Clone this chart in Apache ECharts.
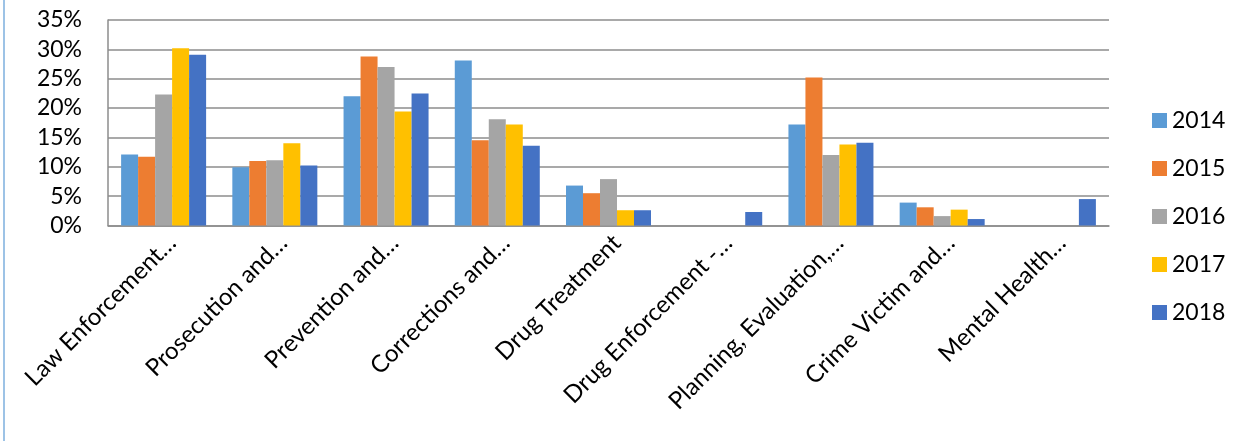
<!DOCTYPE html>
<html>
<head>
<meta charset="utf-8">
<script src="https://cdn.jsdelivr.net/npm/echarts@6/dist/echarts.min.js"></script>
<style>
    html, body {margin: 0; padding: 0; background: #fff;}
    #chart {width: 1252px; height: 441px;}
    .edge {position: absolute; left: 3px; top: 0; width: 2px; height: 441px; background: #9dc3e6; z-index: 2;}
</style>
</head>
<body>
<div class="edge"></div>
<div id="chart"></div>
<script>
// categories (labels are cut off in the original)
const categories = ['Law Enforcement…', 'Prosecution and…', 'Prevention and…', 'Corrections and…',
    'Drug Treatment', 'Drug Enforcement -…', 'Planning, Evaluation,…', 'Crime Victim and…', 'Mental Health…']
const years = ['2014', '2015', '2016', '2017', '2018']

// share per year, %
const v2014 = [12.1, 9.9, 22.0, 28.1, 6.8, 0, 17.2, 3.9, 0]
const v2015 = [11.7, 11.0, 28.8, 14.5, 5.5, 0, 25.2, 3.1, 0]
const v2016 = [22.3, 11.1, 27.0, 18.1, 7.9, 0, 12.0, 1.6, 0]
const v2017 = [30.2, 14.0, 19.4, 17.2, 2.6, 0, 13.8, 2.7, 0]
const v2018 = [29.1, 10.2, 22.5, 13.6, 2.6, 2.3, 14.1, 1.1, 4.5]

const colors = ['#5b9bd5', '#ed7d31', '#a5a5a5', '#ffc000', '#4472c4']
const dataArr = [v2014, v2015, v2016, v2017, v2018]
const font = 'Lato, "Open Sans", sans-serif'

const chartObj = echarts.init(document.getElementById('chart'))

const series = years.map((name, i) => {
    return {
        name: name,
        type: 'bar',
        barWidth: 17,
        barGap: '0%',
        itemStyle: {color: colors[i]},
        data: dataArr[i],
        animation: false
    }
})

const option = {
    backgroundColor: '#fff',
    color: colors,
    grid: {
        left: 108,
        right: 143,
        top: 20,
        height: 205.5
    },
    legend: {
        orient: 'vertical',
        left: 1147,
        top: 104,
        itemWidth: 15,
        itemHeight: 15,
        itemGap: 25,
        icon: 'rect',
        textStyle: {fontFamily: font, fontSize: 23, color: '#000'},
        data: years
    },
    xAxis: {
        type: 'category',
        data: categories,
        axisTick: {show: false},
        axisLine: {show: true, lineStyle: {color: '#8c8c8c', width: 1.5}},
        axisLabel: {
            interval: 0,
            rotate: 45,
            margin: 5,
            verticalAlign: 'top',
            fontFamily: font,
            fontSize: 24,
            color: '#000'
        }
    },
    yAxis: {
        type: 'value',
        min: 0,
        max: 35,
        interval: 5,
        axisLine: {show: true, lineStyle: {color: '#8c8c8c', width: 1.5}},
        axisTick: {show: false},
        splitLine: {show: true, lineStyle: {color: '#8c8c8c', width: 1.5}},
        axisLabel: {
            margin: 26,
            fontFamily: font,
            fontSize: 23,
            color: '#000',
            formatter: value => value + '%'
        }
    },
    series: series
}

chartObj.setOption(option)
</script>
</body>
</html>
